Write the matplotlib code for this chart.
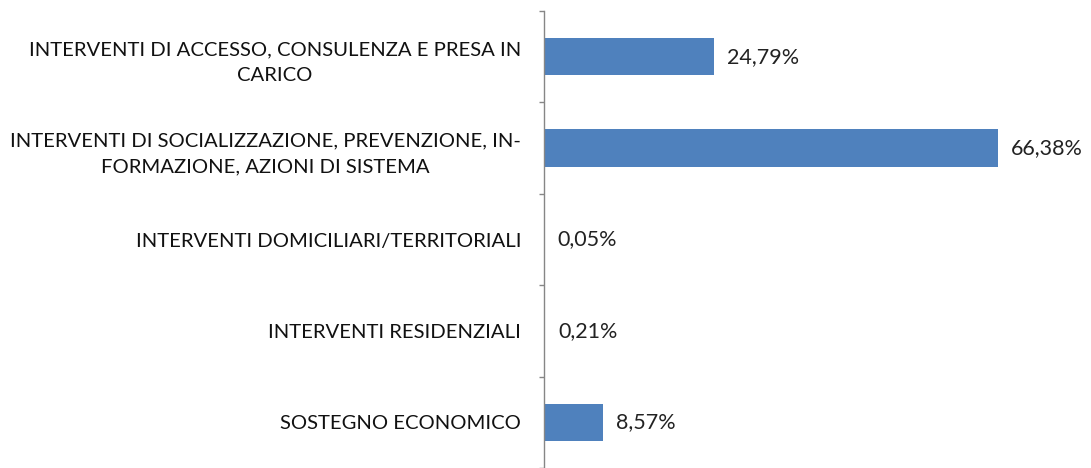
import matplotlib
matplotlib.use("Agg")
import matplotlib.pyplot as plt
import numpy as np

# data
categories = [
    "INTERVENTI DI ACCESSO, CONSULENZA E PRESA IN\nCARICO",
    "INTERVENTI DI SOCIALIZZAZIONE, PREVENZIONE, IN-\nFORMAZIONE, AZIONI DI SISTEMA",
    "INTERVENTI DOMICILIARI/TERRITORIALI",
    "INTERVENTI RESIDENZIALI",
    "SOSTEGNO ECONOMICO",
]
values = [24.79, 66.38, 0.05, 0.21, 8.57]
value_labels = ["24,79%", "66,38%", "0,05%", "0,21%", "8,57%"]

plt.rcParams['font.family'] = ['Lato', 'DejaVu Sans']

W, H, DPI = 1091, 468, 100
fig = plt.figure(figsize=(W / DPI, H / DPI), dpi=DPI)
ax_left, ax_top = 544, 11
ax = fig.add_axes([ax_left / W, 0, 1 - ax_left / W, 1 - ax_top / H])

y = np.arange(len(categories))
ax.barh(y, values, height=0.41, color="#4F81BD", linewidth=0)

px = 92  # pixels per category
ax.set_ylim(-0.5 + (H - ax_top) / px, -0.5)
ax.set_xlim(0, 80)

for yi, v, lab in zip(y, values, value_labels):
    ax.annotate(lab, (v, yi), xytext=(13 * 72 / DPI, 0), textcoords="offset points",
                va="center", ha="left", fontsize=15.5, color="#222222")

ax.set_yticks(y)
ax.set_yticklabels(categories, fontsize=14.6, color="#111111",
                   multialignment="center", linespacing=1.6)
ax.set_yticks(np.arange(-0.5, len(categories) + 0.5, 1), minor=True)
ax.tick_params(axis="y", which="major", length=0, pad=23 * 72 / DPI)
ax.tick_params(axis="y", which="minor", length=5 * 72 / DPI, color="#868686", width=1)
ax.set_xticks([])

for s in ["top", "right", "bottom"]:
    ax.spines[s].set_visible(False)
ax.spines["left"].set_color("#868686")
ax.spines["left"].set_linewidth(1)

fig.savefig("out.png", dpi=DPI)
